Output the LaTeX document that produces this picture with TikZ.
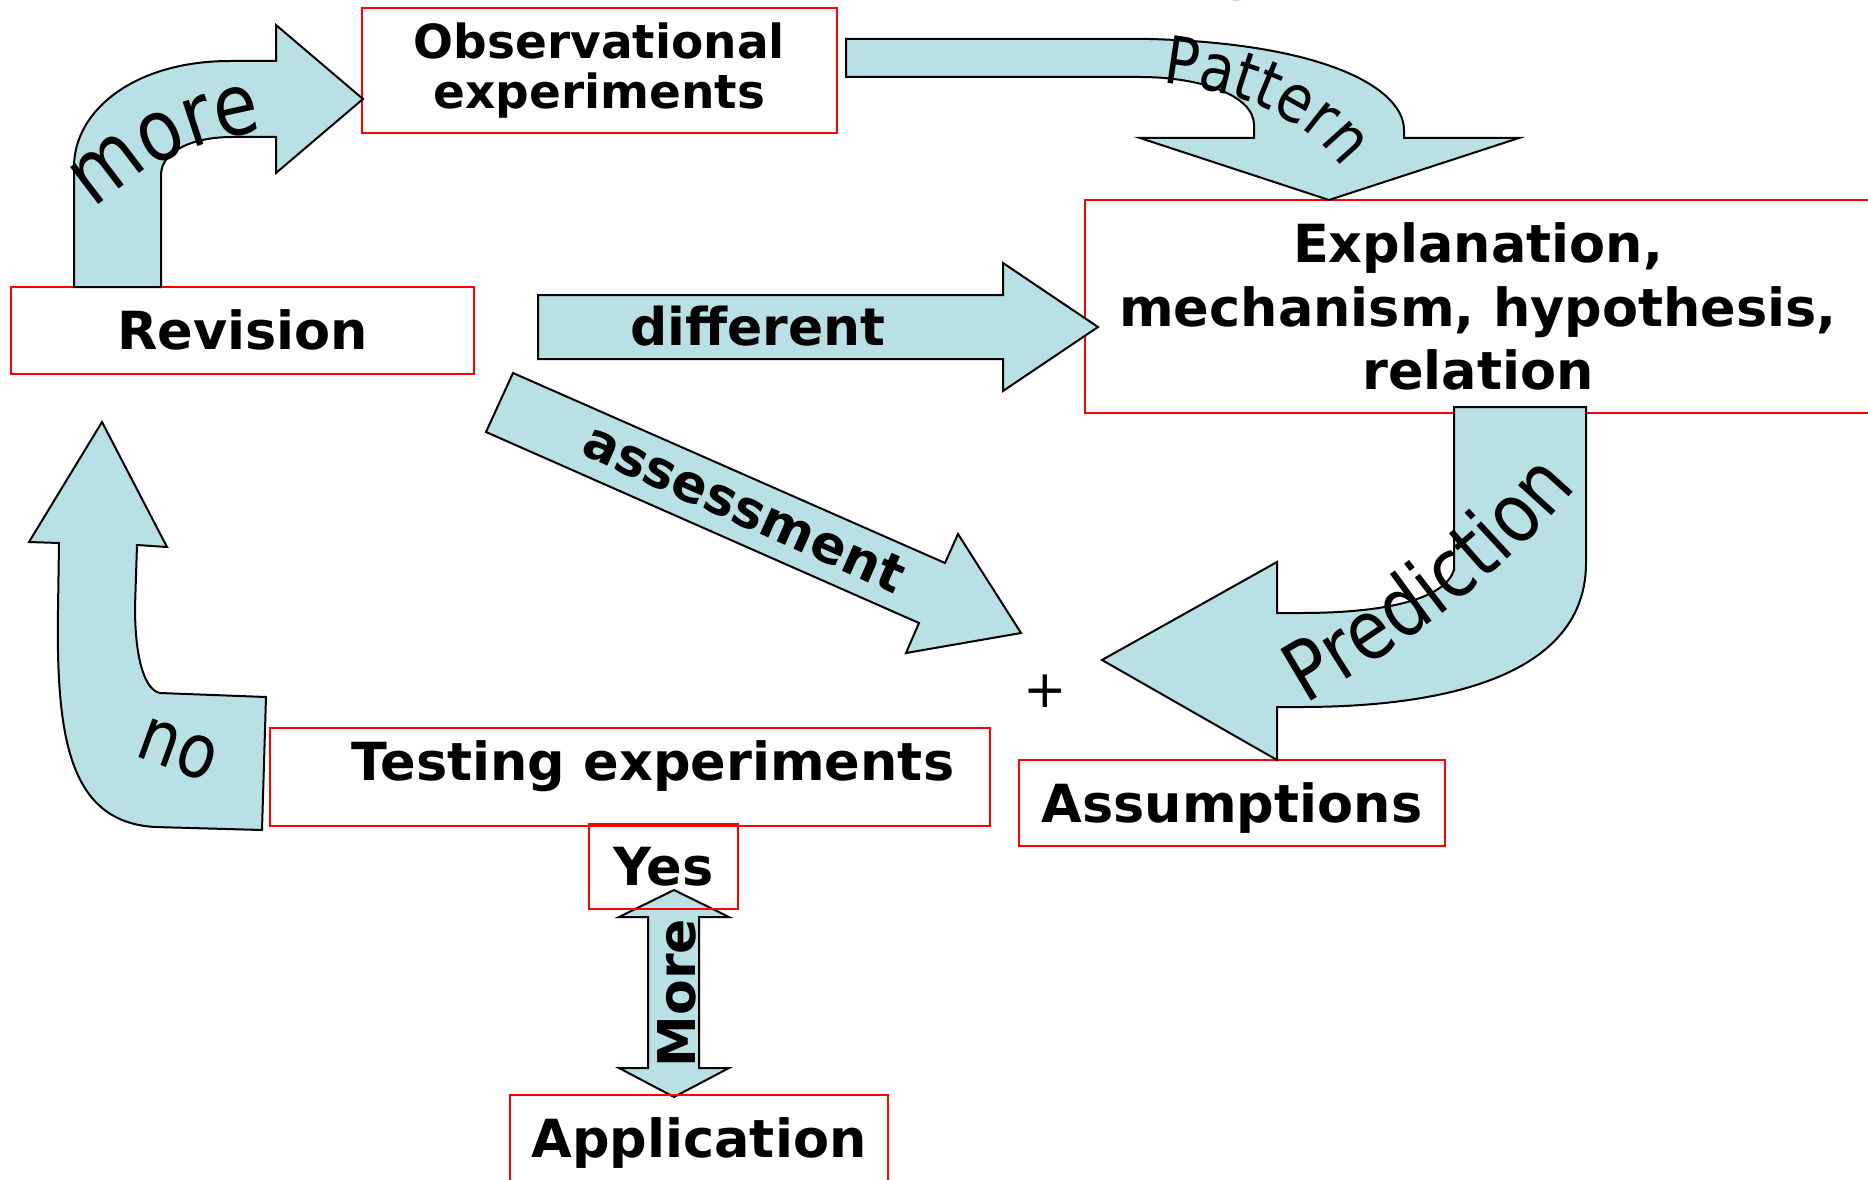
\documentclass[tikz,border=0pt]{standalone}
\usepackage{fontspec}
\setsansfont{DejaVu Sans}
\newfontfamily\bendfont{DejaVu Sans}[FakeStretch=0.85]
\usetikzlibrary{decorations.text}

\definecolor{arrowblue}{RGB}{185,224,228}
\definecolor{boxred}{RGB}{255,0,0}

\begin{document}
\begin{tikzpicture}[x=1pt, y=1pt,
    box/.style={draw=boxred, line width=2.2pt, rectangle, inner sep=0pt,
        font=\sffamily\bfseries\fontsize{52.5}{63.5}\selectfont},
    oneline/.style={text height=38pt, text depth=0pt},
    bigarrow/.style={draw=black, line width=2pt, fill=arrowblue},
    tag/.style={inner sep=0pt, font=\sffamily\bfseries\fontsize{52}{52}\selectfont}]
    \useasboundingbox (0,0) rectangle (1868,-1180);

    % Boxes
    \node[box, minimum width=475pt, minimum height=125pt, align=center,
          font=\sffamily\bfseries\fontsize{47}{50}\selectfont] (ObsExp) at (599.5,-70.5) {Observational\\experiments};
    \node[box, minimum width=786pt, minimum height=213pt, align=center] (Explain) at (1478,-306.5) {Explanation,\\mechanism, hypothesis,\\relation};
    \node[box, oneline, minimum width=463pt, minimum height=87pt] (Revision) at (242.5,-330.5) {Revision};
    \node[box, minimum width=720pt, minimum height=98pt, text height=38pt, text depth=32pt] (Testing) at (630,-777) {\hspace*{46pt}Testing experiments};
    \node[box, oneline, minimum width=426pt, minimum height=86pt] (Assume) at (1232,-803) {Assumptions};

    % Block arrows
    \draw[bigarrow] (74,-287) -- (74,-167) .. controls (74,-110) and (135,-61) .. (230,-61) -- (276,-61) -- (276,-25) -- (363,-99)
        -- (276,-173) -- (276,-137) -- (232,-137) .. controls (195,-137) and (161,-150) .. (161,-175) -- (161,-287) -- cycle;
    \draw[bigarrow] (846,-39) -- (1150,-39) .. controls (1330,-44) and (1404,-90) .. (1404,-130) -- (1404,-138) -- (1519,-138)
        -- (1329,-200) -- (1140,-138) -- (1254,-138) -- (1254,-125) .. controls (1254,-95) and (1200,-77) .. (1140,-77) -- (846,-77) -- cycle;
    \draw[bigarrow] (538,-295) -- (1003,-295) -- (1003,-263) -- (1098,-327) -- (1003,-391) -- (1003,-359) -- (538,-359) -- cycle;
    \draw[bigarrow] (513,-373) -- (945,-563) -- (958,-534) -- (1021,-633) -- (906,-653) -- (919,-623) -- (486,-432) -- cycle;
    \draw[bigarrow] (1454,-407) -- (1586,-407) -- (1586,-563) .. controls (1586,-665) and (1470,-707) .. (1300,-707) -- (1277,-707)
        -- (1277,-760) -- (1102,-660) -- (1277,-562) -- (1277,-613) -- (1300,-613) .. controls (1390,-613) and (1445,-598) .. (1454,-570) -- cycle;
    \draw[bigarrow] (102,-422) -- (167,-547) -- (137,-545) -- (135,-607) .. controls (135,-660) and (145,-690) .. (160,-693) -- (266,-697)
        -- (262,-830) -- (155,-827) .. controls (70,-822) and (56,-740) .. (58,-610) -- (59,-543) -- (29,-542) -- cycle;
    \draw[bigarrow] (674,-890) -- (729,-917) -- (699,-917) -- (699,-1068) -- (729,-1068) -- (674,-1097) -- (619,-1068)
        -- (648,-1068) -- (648,-917) -- (619,-917) -- cycle;

    \node[box, oneline, minimum width=149pt, minimum height=85pt] (Yes) at (663.5,-866.5) {Yes};
    \node[box, oneline, minimum width=378pt, minimum height=86pt] (Apply) at (699,-1138) {Application};

    % Labels
    \node[tag, anchor=base] (Different) at (758,-345) {different};
    \node[tag, rotate=-24, text height=29pt, text depth=0pt] (Assessment) at (743,-511) {assessment};
    \node[tag, rotate=90, text height=38pt, text depth=0pt] (MoreTag) at (676,-993) {More};
    \node[inner sep=0pt, font=\sffamily\fontsize{52}{52}\selectfont] (Plus) at (1045,-691) {+};
    \node[inner sep=0pt, rotate=-20, font=\bendfont\fontsize{75}{75}\selectfont] (No) at (178,-750) {no};
    \node[tag, anchor=base west, text=boxred] (Title) at (1228,10) {y};

    % Bent labels
    \path[decorate, decoration={text along path, text align=center,
        text={|\bendfont\fontsize{85}{85}\selectfont|more}}] (72,-236) .. controls (122,-176) and (187,-136) .. (297,-126);
    \path[decorate, decoration={text along path, text align=center,
        text={|\bendfont\fontsize{66}{66}\selectfont|Pattern}}] (1095,-79) .. controls (1255,-80) and (1345,-130) .. (1370,-230);
    \path[decorate, decoration={text along path, text align=center,
        text={|\bendfont\fontsize{82}{82}\selectfont|Prediction}}] (1244,-737) .. controls (1364,-677) and (1524,-572) .. (1619,-432);
\end{tikzpicture}
\end{document}
